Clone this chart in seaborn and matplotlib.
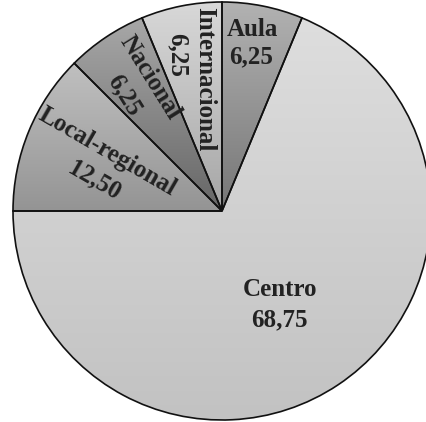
# Pie chart: share of activities by scope (%)

import numpy as np
import matplotlib.pyplot as plt
import seaborn as sns
from matplotlib.colors import LinearSegmentedColormap

categories = ["Aula", "Centro", "Local-regional", "Nacional", "Internacional"]
values = [6.25, 68.75, 12.50, 6.25, 6.25]
value_labels = ["6,25", "68,75", "12,50", "6,25", "6,25"]

# vertical gradient per slice (top colour, bottom colour)
grad_top = ["#b2b2b2", "#dedede", "#c0c0c0", "#a8a8a8", "#d8d8d8"]
grad_bottom = ["#767676", "#c2c2c2", "#949494", "#666666", "#a6a6a6"]

# label placement: (radius, angle offset from slice middle in degrees)
name_pos = [(0.882, 1.85), (0.468, 2.4), (0.618, -5.0), (0.723, -5.35), (0.638, -3.6)]
value_pos = [(0.75, 0.55), (0.589, -6.1), (0.626, 8.8), (0.725, 6.35), (0.775, 4.65)]
label_rot = [0, 0, -30, -58, -90]

sns.set_style("white")
plt.rcParams['font.family'] = ['Liberation Serif', 'DejaVu Serif']

fig = plt.figure(figsize=(4.26, 4.22), dpi=100)
ax = fig.add_axes([0.0, 0.0, 1.0, 1.0])

wedges, _ = ax.pie(values, colors=["none"] * len(values), startangle=90, counterclock=False,
                   wedgeprops=dict(edgecolor="#111111", linewidth=1.2, zorder=3))

# fill each slice with a top-to-bottom gradient
for w, c0, c1 in zip(wedges, grad_top, grad_bottom):
    ext = w.get_path().get_extents()
    cmap = LinearSegmentedColormap.from_list("g", [c1, c0])
    grad = np.linspace(0, 1, 256).reshape(-1, 1)
    im = ax.imshow(grad, cmap=cmap, origin="lower", aspect="auto",
                   extent=[ext.x0, ext.x1, ext.y0, ext.y1], zorder=1, interpolation="bilinear")
    im.set_clip_path(w)

for w, cat, lab, npos, vpos, rot in zip(wedges, categories, value_labels, name_pos, value_pos, label_rot):
    mid = (w.theta1 + w.theta2) / 2
    for txt, (r, off) in ((cat, npos), (lab, vpos)):
        a = np.deg2rad(mid + off)
        ax.text(r * np.cos(a), r * np.sin(a), txt, ha="center", va="center",
                rotation=rot, rotation_mode="anchor", fontsize=18, fontweight="bold",
                color="#222222", zorder=4)

# pie centre at (222, 211) px, radius ~209 px
ax.set_xlim(-222 / 209, (426 - 222) / 209)
ax.set_ylim(-(422 - 211) / 209, 211 / 209)
ax.set_aspect("equal")
ax.axis("off")

fig.savefig("out.png", dpi=100)
plt.close(fig)
